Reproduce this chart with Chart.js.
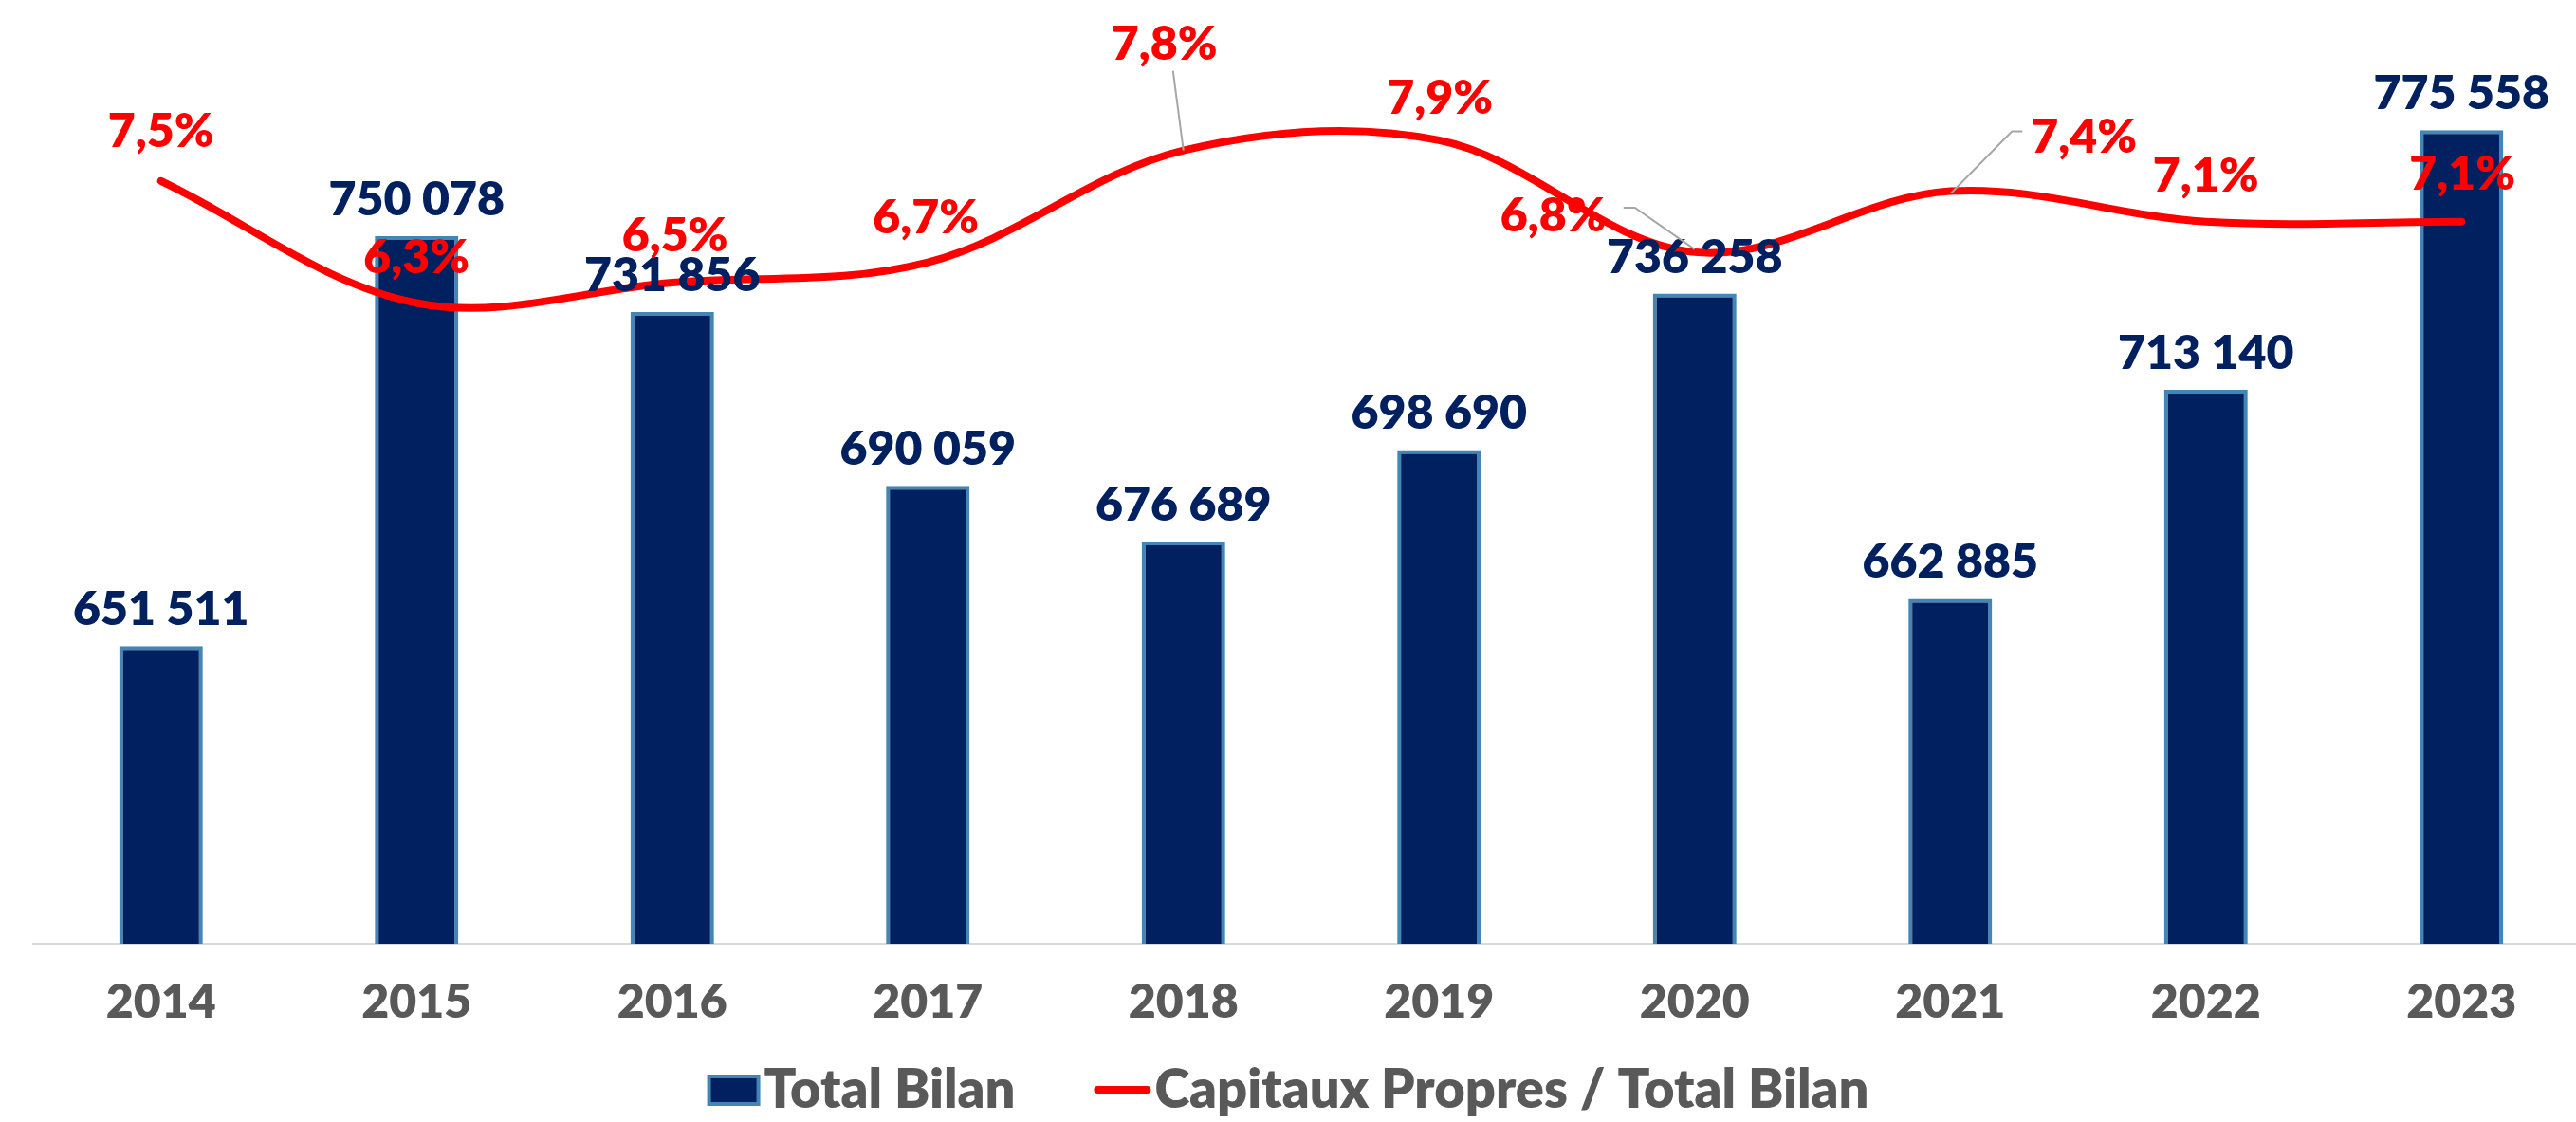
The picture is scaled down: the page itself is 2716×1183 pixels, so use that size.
<!DOCTYPE html>
<html>
<head>
<meta charset="utf-8">
<script src="https://cdn.jsdelivr.net/npm/chart.js@4.4.1/dist/chart.umd.min.js"></script>
<style>
  html, body { margin: 0; padding: 0; background: #fff; overflow: hidden; }
  #wrap { width: 2716px; height: 1183px; overflow: hidden; }
</style>
</head>
<body>
<div id="wrap"><canvas id="myChart" width="2730" height="1183"></canvas></div>
<script>
const years = ['2014', '2015', '2016', '2017', '2018', '2019', '2020', '2021', '2022', '2023'];
const totalBilan = [651511, 750078, 731856, 690059, 676689, 698690, 736258, 662885, 713140, 775558];
const ratioCapitaux = [7.5, 6.3, 6.5, 6.7, 7.8, 7.9, 6.8, 7.4, 7.1, 7.1];

const NAVY = '#002060';
const STEEL = '#4386B6';
const RED = '#FF0000';
const GREY_TEXT = '#595959';
const FONT = 'Lato';
const WEIGHT = 800;
const SIZE = 50;
const LEGEND_SIZE = 56;
const PAGE_CENTER = 1358; // visible page is 2716 wide, plot area runs a bit past it

// where each % label sits relative to its point (center x, baseline y), plus leader lines
const pctLabelPos = [
  { dx: 0, dy: -36 },
  { dx: 0, dy: -32 },
  { dx: 3, dy: -33 },
  { dx: -2, dy: -31 },
  { dx: -20, dy: -96, leader: [[-11, -84], [0, 0]] },
  { dx: 1, dy: -28 },
  { dx: -149, dy: -22, leader: [[-75, -47], [-63, -47], [0, -3]] },
  { dx: 141, dy: -41, leader: [[76, -63], [65, -63], [1, 2]] },
  { dx: 0, dy: -32 },
  { dx: 1, dy: -34 }
];

const fmtThousands = v => String(v).replace(/\B(?=(\d{3})+(?!\d))/g, ' ');
const fmtPct = v => v.toFixed(1).replace('.', ',') + '%';

const ctx = document.getElementById('myChart').getContext('2d');

const labelsPlugin = {
  id: 'valueLabels',
  afterDatasetsDraw: chart => {
    const c = chart.ctx;
    c.save();
    c.font = `${WEIGHT} ${SIZE}px ${FONT}`;
    c.textAlign = 'center';
    c.textBaseline = 'alphabetic';

    // bar values
    const barMeta = chart.getDatasetMeta(1);
    c.fillStyle = NAVY;
    barMeta.data.forEach((bar, i) => {
      c.fillText(fmtThousands(totalBilan[i]), bar.x, bar.y - 22);
    });

    // ratio values + leader lines
    const lineMeta = chart.getDatasetMeta(0);
    lineMeta.data.forEach((pt, i) => {
      const pos = pctLabelPos[i];
      if (pos.leader) {
        c.strokeStyle = '#A6A6A6';
        c.lineWidth = 2;
        c.beginPath();
        pos.leader.forEach(([lx, ly], k) => {
          if (k === 0) c.moveTo(pt.x + lx, pt.y + ly);
          else c.lineTo(pt.x + lx, pt.y + ly);
        });
        c.stroke();
      }
      c.fillStyle = RED;
      c.fillText(fmtPct(ratioCapitaux[i]), pt.x + pos.dx, pt.y + pos.dy);
    });
    c.restore();
  }
};

const legendPlugin = {
  id: 'bottomLegend',
  afterDraw: chart => {
    const c = chart.ctx;
    const barDs = chart.data.datasets[1];
    const lineDs = chart.data.datasets[0];
    c.save();
    c.font = `${WEIGHT} ${LEGEND_SIZE}px ${FONT}`;
    c.textBaseline = 'alphabetic';
    c.textAlign = 'left';
    const w1 = c.measureText(barDs.label).width;
    const w2 = c.measureText(lineDs.label).width;
    const boxW = 56, lineW = 60, gap = 4, itemGap = 83;
    const total = boxW + gap + w1 + itemGap + lineW + gap + w2;
    let x = PAGE_CENTER - total / 2;
    const baseY = 1168;

    c.fillStyle = barDs.backgroundColor;
    c.strokeStyle = barDs.borderColor;
    c.lineWidth = 4;
    c.fillRect(x + 2, 1135, boxW - 4, 29);
    c.strokeRect(x + 2, 1135, boxW - 4, 29);
    x += boxW + gap;
    c.fillStyle = GREY_TEXT;
    c.fillText(barDs.label, x, baseY);
    x += w1 + itemGap;

    c.strokeStyle = lineDs.borderColor;
    c.lineWidth = 8;
    c.lineCap = 'round';
    c.beginPath();
    c.moveTo(x + 4, 1149);
    c.lineTo(x + lineW - 4, 1149);
    c.stroke();
    x += lineW + gap;
    c.fillStyle = GREY_TEXT;
    c.fillText(lineDs.label, x, baseY);
    c.restore();
  }
};

new Chart(ctx, {
  data: {
    labels: years,
    datasets: [
      {
        type: 'line',
        label: 'Capitaux Propres / Total Bilan',
        data: ratioCapitaux,
        yAxisID: 'yPct',
        borderColor: RED,
        backgroundColor: RED,
        borderWidth: 8,
        borderCapStyle: 'round',
        borderJoinStyle: 'round',
        pointRadius: 0,
        tension: 0.35,
        fill: false,
        order: 1
      },
      {
        type: 'bar',
        label: 'Total Bilan',
        data: totalBilan,
        yAxisID: 'y',
        backgroundColor: NAVY,
        borderColor: STEEL,
        borderWidth: 4,
        borderSkipped: false,
        categoryPercentage: 1,
        barPercentage: 0.327,
        order: 2
      }
    ]
  },
  options: {
    responsive: false,
    animation: false,
    devicePixelRatio: 1,
    layout: {
      padding: { top: 30, left: 35, right: 0, bottom: 68 }
    },
    scales: {
      x: {
        grid: { display: false, drawTicks: false },
        border: { display: true, color: '#D9D9D9', width: 2 },
        ticks: {
          color: GREY_TEXT,
          padding: 32,
          font: { family: FONT, size: SIZE, weight: WEIGHT }
        },
        afterFit: scale => { scale.height = 120; }
      },
      y: {
        display: false,
        min: 580000,
        max: 800000
      },
      yPct: {
        display: false,
        position: 'right',
        min: 0,
        max: 9
      }
    },
    plugins: {
      legend: { display: false },
      tooltip: { enabled: false }
    }
  },
  plugins: [labelsPlugin, legendPlugin]
});
</script>
</body>
</html>
